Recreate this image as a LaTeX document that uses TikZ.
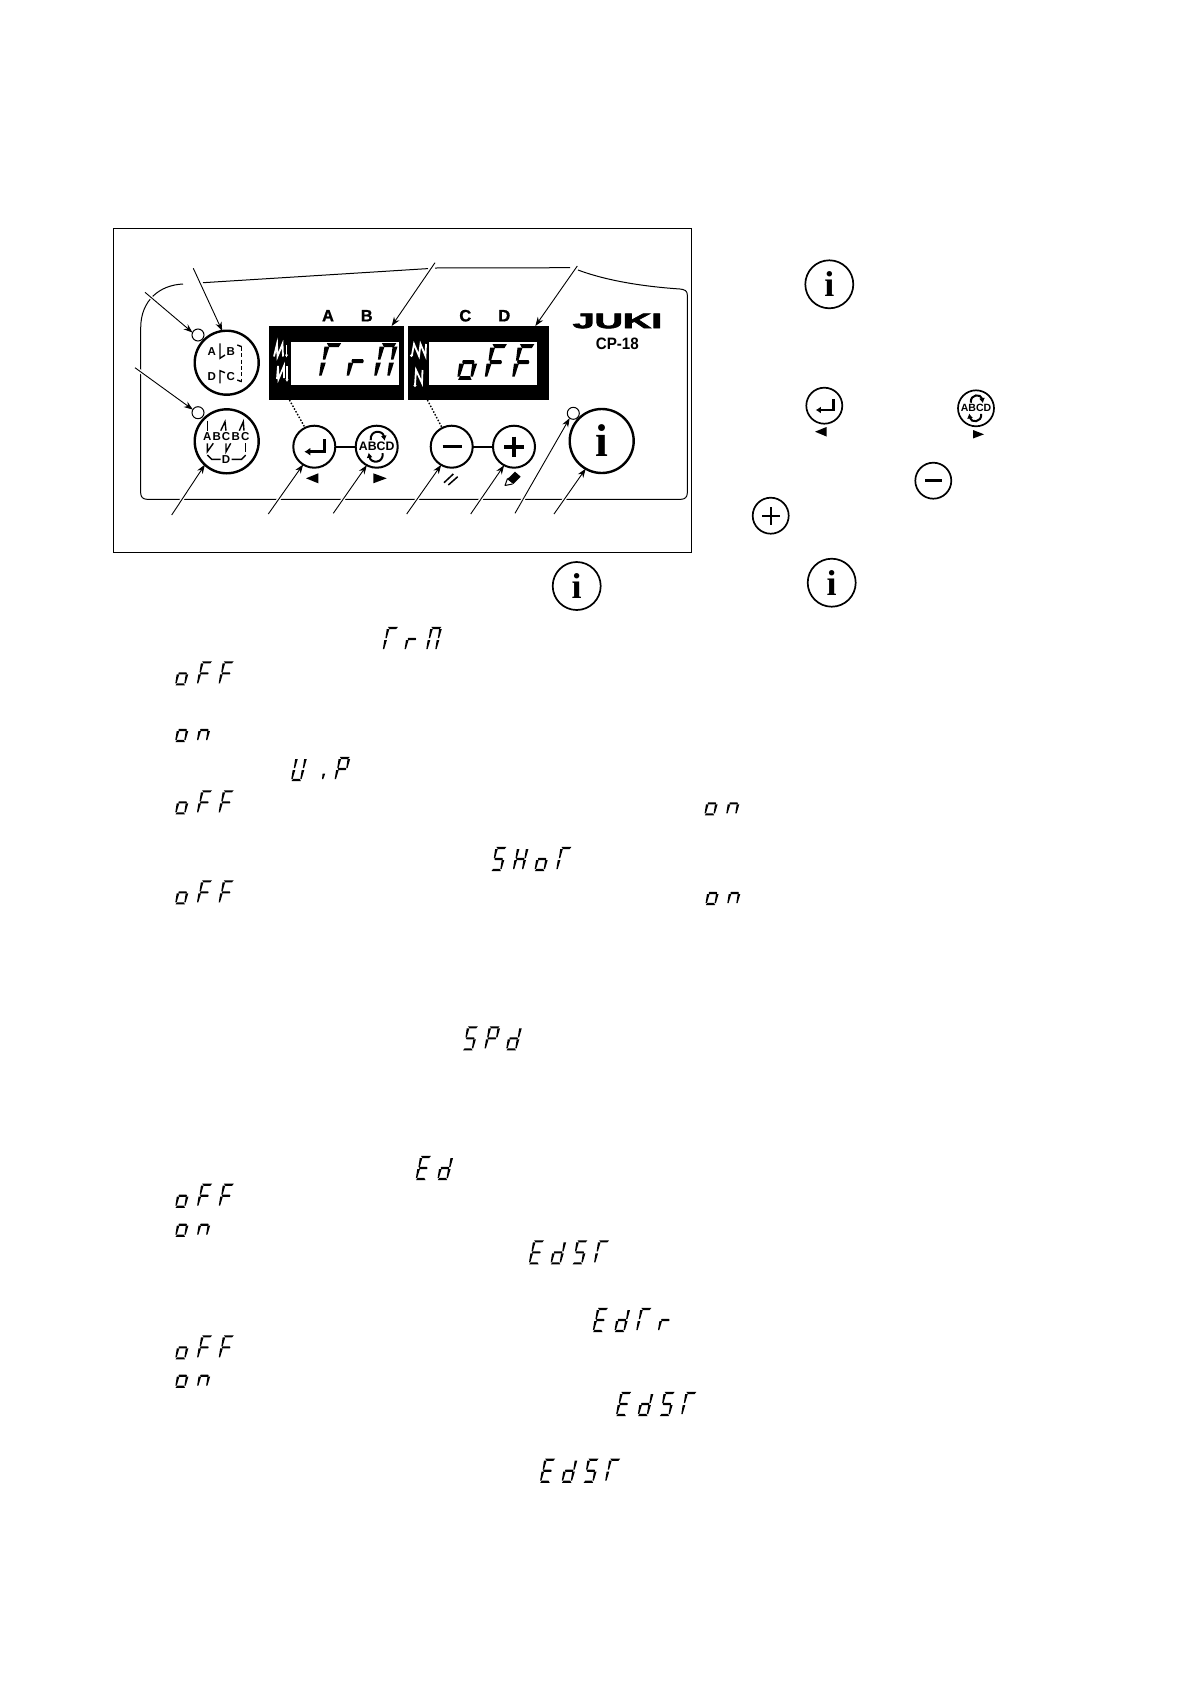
\documentclass[tikz,border=0pt]{standalone}
\usepackage{fontspec}
\usepackage{graphicx}
\setmainfont{Liberation Sans}
\newfontfamily\serifi{Liberation Serif}
\newfontfamily\logofont{Liberation Sans}[BoldFeatures={FakeBold=3}]
\newfontfamily\keyfont{Liberation Sans}[BoldFeatures={FakeBold=1.2}]
\usetikzlibrary{arrows.meta,calc}
\newcommand\vseg[4]{\fill ({#1-.5*\sw},#2)--({#1+.5*\sw},#2)--({#3+\sw},#4)--({#3-\sw},#4)--cycle;}
\def\SGsegA{\fill (4.7,{-22-.8*\sw})--(14.6,{-22-.8*\sw})--(12.9,{-22+.8*\sw})--(6.2,{-22+.8*\sw})--cycle;}
\def\SGsegB{\vseg{11.8}{-12}{13.75}{-21}}
\def\SGsegC{\vseg{9.25}{-1}{11.3}{-10}}
\def\SGsegD{\fill (-.2,{.8*\sw})--(9.2,{.8*\sw})--(8,{-.8*\sw})--(1.3,{-.8*\sw})--cycle;}
\def\SGsegE{\vseg{.25}{-1}{2.3}{-10}}
\def\SGsegF{\vseg{2.8}{-12}{4.75}{-21}}
\def\SGsegG{\fill (3.2,{-11-.8*\sw})--(10.6,{-11-.8*\sw})--(11.2,-11)--(10.6,{-11+.8*\sw})--(3.4,{-11+.8*\sw})--(2.7,-11)--cycle;}
\expandafter\def\csname SGT\endcsname{\SGsegA\SGsegE\SGsegF}
\expandafter\def\csname SGr\endcsname{\SGsegE\SGsegG}
\expandafter\def\csname SGM\endcsname{\SGsegA\SGsegB\SGsegC\SGsegE\SGsegF}
\expandafter\def\csname SGo\endcsname{\SGsegC\SGsegD\SGsegE\SGsegG}
\expandafter\def\csname SGF\endcsname{\SGsegA\SGsegE\SGsegF\SGsegG}
\expandafter\def\csname SGn\endcsname{\SGsegC\SGsegE\SGsegG}
\expandafter\def\csname SGV\endcsname{\SGsegB\SGsegC\SGsegD\SGsegE\SGsegF}
\expandafter\def\csname SGi\endcsname{\vseg{9.25}{-1}{10.5}{-6.5}}
\expandafter\def\csname SGP\endcsname{\SGsegA\SGsegB\SGsegE\SGsegF\SGsegG}
\expandafter\def\csname SGS\endcsname{\SGsegA\SGsegC\SGsegD\SGsegF\SGsegG}
\expandafter\def\csname SGH\endcsname{\SGsegB\SGsegC\SGsegE\SGsegF\SGsegG}
\expandafter\def\csname SGd\endcsname{\SGsegB\SGsegC\SGsegD\SGsegE\SGsegG}
\expandafter\def\csname SGE\endcsname{\SGsegA\SGsegD\SGsegE\SGsegF\SGsegG}
% x, y of bottom-left, scale, pitch (local units), half width of a segment, letters
\newcommand\segword[6]{%
  \begin{scope}[shift={(#1,#2)},scale=#3]
  \def\sw{#5}%
  \foreach \c [count=\n from 0] in {#6}{%
    \begin{scope}[shift={({\n*#4},0)}]\csname SG\c\endcsname\end{scope}}
  \end{scope}}
\newcommand\smallword[3]{\segword{#1}{#2}{1}{21.7}{1.3}{#3}}
\tikzset{
  btn/.style={circle,draw=black,fill=white,inner sep=0pt,outer sep=0pt},
  bigbtn/.style={btn,line width=2.4pt,minimum size=64pt},
  midbtn/.style={btn,line width=2pt,minimum size=42pt},
  sidebtn/.style={btn,line width=1.7pt,minimum size=36pt},
  infobtn/.style={btn,line width=1.7pt,minimum size=48pt},
  led/.style={btn,line width=1pt,minimum size=12pt},
  dispbox/.style={rectangle,fill=black,inner sep=0pt,outer sep=0pt,minimum width=135pt,minimum height=74pt},
  dispwin/.style={rectangle,fill=white,inner sep=0pt,outer sep=0pt,minimum height=42.7pt},
  keyletter/.style={inner sep=0pt,font=\keyfont\fontsize{16.5}{16.5}\selectfont\bfseries},
  iconletter/.style={inner sep=0pt,font=\fontsize{11.5}{11.5}\selectfont\bfseries},
  outline/.style={line width=1pt,black},
  glyph/.style={line width=1.4pt,black},
  wglyph/.style={line width=1.8pt,white},
  link/.style={line width=1.9pt,black},
  dots/.style={line width=1.4pt,black,dash pattern=on 1.5pt off 1.7pt},
  lead/.style={line width=.9pt,black,-{Stealth[length=9pt,width=6.5pt]}},
  halo/.style={line width=3.6pt,white,shorten >=12pt},
  bigi/.style={inner sep=0pt,font=\serifi\fontsize{46}{46}\selectfont\bfseries},
  sidei/.style={inner sep=0pt,font=\serifi\fontsize{36}{36}\selectfont\bfseries},
}
\newcommand\enterglyph[3]{\begin{scope}[shift={(#1,#2)},scale=#3]
  \draw[line width=3.4pt*#3,-{Latex[length=6pt*#3,width=8pt*#3]}] (10.4,-7.4)--(10.4,5)--(-10,5);
  \end{scope}}
\newcommand\abcdglyph[4]{\begin{scope}[shift={(#1,#2)},scale=#3]
  \node[inner sep=0pt,font=\fontsize{#4}{#4}\selectfont\bfseries] at (0,0) {ABCD};
  \draw[line width=2pt,-{Latex[length=5pt,width=6pt]}] (-6,-6.5) .. controls (-7,-17) and (6,-17) .. (8,-6);
  \draw[line width=2pt,-{Latex[length=5pt,width=6pt]}] (6,6.5) .. controls (7,17) and (-6,17) .. (-8,6);
  \end{scope}}
\begin{document}
\begin{tikzpicture}[x=1pt,y=-1pt]
\useasboundingbox (0,0) rectangle (1191,1684);
\fill[white] (0,0) rectangle (1191,1684);
% frame
\draw[line width=1.2pt] (113.5,228.5) rectangle (691.5,552.5);
% panel outline
\draw[outline] (203,282.7) -- (428,268.6);
\draw[outline] (435,268) -- (570,267.7);
\draw[outline] (578,270) .. controls (610,282) and (650,287) .. (680,289)
  .. controls (685,289.5) and (687.3,291) .. (687.3,295) -- (687.3,493)
  .. controls (687.3,497) and (685,499.3) .. (681,499.3) -- (147,499.3)
  .. controls (143,499.3) and (140.7,497) .. (140.7,493) -- (140.7,328)
  .. controls (140.7,300) and (160,285) .. (183,284);
% displays
\node[dispbox] (disp1) at (336.8,363) {};
\node[dispbox,minimum width=141.3pt] (disp2) at (478.35,363) {};
\node[dispwin,minimum width=108.3pt] (win1) at (345.15,363.65) {};
\node[dispwin,minimum width=108.3pt] (win2) at (483.15,363.65) {};
\segword{320}{377}{1.45}{19}{1.7}{T,r,M}
\segword{458.3}{378}{1.45}{18.9}{1.7}{o,F,F}
% stitch icons on the displays
\draw[wglyph] (274,356.5)--(277,344)--(277.5,356.5)--(282.5,344)--(283,356.5);
\draw[wglyph,line width=1.2pt,-{Latex[length=3pt,width=3.5pt]}] (286.5,345)--(286.5,357.5);
\draw[wglyph] (277,379)--(278,366)--(278.5,379)--(284,366)--(284,378);
\draw[wglyph,line width=1.2pt,-{Latex[length=3pt,width=3.5pt]}] (287,366)--(287,382);
\draw[wglyph] (412,355)--(414,344)--(419,356)--(420.5,344)--(425.5,356)--(426,344);
\fill[white] (411.5,355.5) circle (1.6pt);
\draw[wglyph] (415,385)--(416,370)--(422,383)--(422.5,370);
\fill[white] (415,385.5) circle (1.6pt);
% column letters
\node[keyletter] (lA) at (328,315.7) {A};
\node[keyletter] (lB) at (366.7,315.7) {B};
\node[keyletter] (lC) at (465.3,315.7) {C};
\node[keyletter] (lD) at (504.3,315.7) {D};
% logo
\node[inner sep=0pt,font=\logofont\fontsize{21}{21}\selectfont\bfseries] (logo) at (617.5,321) {\scalebox{1.87}[1]{JUKI}};
\node[inner sep=0pt,font=\fontsize{16.5}{16.5}\selectfont\bfseries] (model) at (617.3,344) {\scalebox{.92}[1]{CP-18}};
% buttons on the panel
\node[bigbtn] (sel1) at (226.7,362.7) {};
\node[bigbtn] (sel2) at (226.7,441.3) {};
\node[led] (led1) at (198,335) {};
\node[led] (led2) at (198,412.7) {};
\node[midbtn] (enter) at (314.3,446.7) {};
\node[midbtn] (abcd) at (376.7,446.7) {};
\node[midbtn] (minus) at (451.7,446.7) {};
\node[midbtn] (plus) at (514,446.7) {};
\node[bigbtn] (info) at (601.7,441) {};
\node[led] (led3) at (573.3,413.3) {};
\draw[link] (enter) -- (abcd);
\draw[link] (minus) -- (plus);
\draw[dots] (disp1.218) -- (enter.116);
\draw[dots] (disp2.216) -- (minus.117);
% selector 1 icon
\node[iconletter] (a1) at (211.7,351.7) {A};
\node[iconletter] (b1) at (230.7,351.7) {B};
\node[iconletter] (d1) at (211.7,376.7) {D};
\node[iconletter] (c1) at (230.7,376.7) {C};
\draw[glyph] (220,343.3)--(220,358.3)--(225,355);
\draw[glyph] (220,383.3)--(220,370.7)--(225,372.7);
\draw[glyph] (237.3,345)--(241.7,346.7);
\draw[glyph,dash pattern=on 4pt off 2.4pt] (241.7,346.7)--(241.7,381.7);
\draw[glyph] (241.7,381.7)--(237.3,380);
% selector 2 icon
\foreach \t/\px [count=\k] in {A/207.3,B/216.7,C/226,B/235.7,C/245.3}{
  \node[iconletter] (row\k) at (\px,436.7) {\t};}
\node[iconletter] (dd) at (226,459.3) {D};
\draw[glyph] (207.3,420.7)--(207.3,431);
\draw[glyph] (220.7,430.7)--(225,421.7)--(226,430.7);
\draw[glyph] (239.3,430.7)--(243.3,421.7)--(244,430.7);
\draw[glyph] (207.3,443.3)--(207.3,451.7)--(213.3,443.3);
\draw[glyph] (226,443.3)--(226,451.7)--(230.7,443.3);
\draw[glyph] (245.3,443.3)--(245.3,451.7);
\draw[glyph] (207.3,455)--(211.7,459.3)--(220.7,459.3);
\draw[glyph] (231.7,459.3)--(241.7,459.3)--(245.7,455);
% button glyphs on the panel
\enterglyph{314.3}{446.7}{1}
\abcdglyph{376.7}{446.7}{1}{12.3}
\draw[line width=3.4pt] (442.7,446.7)--(461.7,446.7);
\draw[line width=3.8pt] (504,446.7)--(524,446.7) (514,436.7)--(514,457.3);
\node[bigi] (infoi) at (601.7,441) {i};
\fill (306,478.3)--(318.3,473.3)--(318.3,483.3)--cycle;
\fill (386.7,478.3)--(373.3,473.3)--(373.3,483.3)--cycle;
\draw[line width=1.5pt] (444,482.7)--(453.3,474) (448.3,485)--(457.7,476.7);
\fill (510,476.7)--(515,471.7)--(520.7,476.7)--(513.3,484)--(507,479)--cycle;
\draw[line width=1pt,line join=round] (507.5,478.5)--(505,485.5)--(512.5,484);
% leaders
\foreach \s/\sx/\sy/\t in {
  a/193.3/268.3/sel1.98.7, b/145/292.3/led1.156, c/135/367.7/led2.149,
  d/171.7/515/sel2.227, e/268.3/514/enter.238, f/333.3/513.3/abcd.242.5,
  g/406.7/514/minus.240.4, h/470.7/514/plus.242.5, i/515/513.3/led3.233,
  j/554/514/info.240, k/435/262.7/disp1.34.3, l/577.3/266/disp2.33.6}{
  \coordinate (from\s) at (\sx,\sy);
  \draw[halo] (from\s) -- (\t);
  \draw[lead] (from\s) -- (\t);}
% side icons
\node[infobtn] (i1) at (829.3,284.3) {};
\node[sidei] (i1g) at (829.3,284.3) {i};
\node[sidebtn] (s1) at (824.3,405.7) {};
\enterglyph{824.3}{405.7}{.86}
\fill (815,431.7)--(826.5,427)--(826.5,436.5)--cycle;
\node[sidebtn] (s2) at (976,408.3) {};
\abcdglyph{976}{408.3}{.86}{10.5}
\fill (984,434.3)--(973,430)--(973,438.5)--cycle;
\node[sidebtn] (s3) at (933.3,480.7) {};
\draw[line width=3pt] (925,480.7)--(942,480.7);
\node[sidebtn] (s4) at (770.7,515.7) {};
\draw[line width=2.4pt] (762,515.7)--(779.5,515.7) (770.7,507)--(770.7,524.5);
\node[infobtn] (i2) at (831.7,582.7) {};
\node[sidei] (i2g) at (831.7,582.7) {i};
\node[infobtn] (i3) at (576.7,586) {};
\node[sidei] (i3g) at (576.7,586) {i};
% seven-segment words in the text column
\smallword{383.3}{650}{T,r,M}
\smallword{175.7}{684.3}{o,F,F}
\smallword{175.7}{741}{o,n}
\smallword{291.7}{780}{V,i,P}
\smallword{175.7}{813.3}{o,F,F}
\smallword{705}{814.3}{o,n}
\smallword{491.7}{870}{S,H,o,T}
\smallword{175.7}{903.3}{o,F,F}
\smallword{706}{904}{o,n}
\smallword{463.3}{1049.3}{S,P,d}
\smallword{416.3}{1179}{E,d}
\smallword{175.8}{1206.7}{o,F,F}
\smallword{175.8}{1235.7}{o,n}
\smallword{529.4}{1263.3}{E,d,S,T}
\smallword{593.3}{1331}{E,d,T,r}
\smallword{175.8}{1358.3}{o,F,F}
\smallword{175.8}{1386.7}{o,n}
\smallword{616.6}{1415}{E,d,S,T}
\smallword{540.5}{1481.7}{E,d,S,T}
\end{tikzpicture}
\end{document}
